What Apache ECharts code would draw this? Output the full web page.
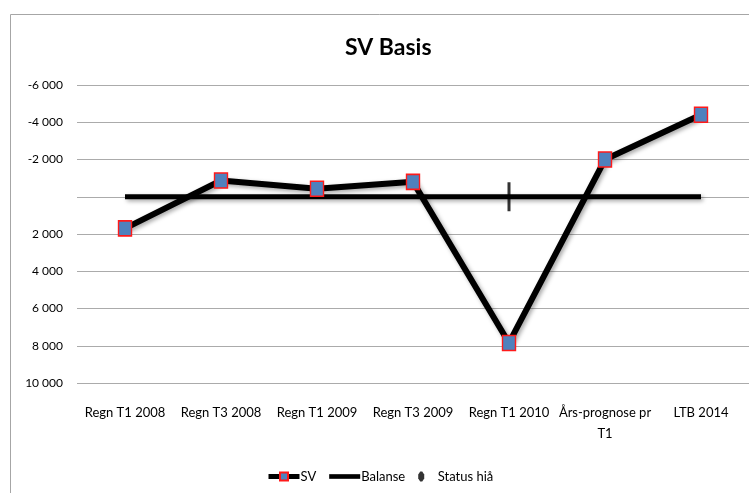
<!DOCTYPE html>
<html>
<head>
<meta charset="utf-8">
<script src="https://cdn.jsdelivr.net/npm/echarts@6/dist/echarts.min.js"></script>
<style>
  html, body { margin: 0; padding: 0; background: #fff; }
  #chart { width: 749px; height: 493px; }
</style>
</head>
<body>
<div id="chart"></div>
<script>
// data
const categories = ['Regn T1 2008', 'Regn T3 2008', 'Regn T1 2009', 'Regn T3 2009', 'Regn T1 2010', 'Års-prognose pr\nT1', 'LTB 2014'];
const svValues = [1700, -870, -430, -800, 7850, -2000, -4400];
const balanseValues = [0, 0, 0, 0, 0, 0, 0];
const statusValues = [null, null, null, null, 0, null, null];
const yTicks = [-6000, -4000, -2000, 0, 2000, 4000, 6000, 8000, 10000];

const font = 'Lato, sans-serif';

// "# ##0" style, blank for zero like the original
const fmt = v => {
  if (v === 0) return '';
  const s = String(Math.abs(v)).replace(/\B(?=(\d{3})+(?!\d))/g, ' ');
  return (v < 0 ? '-' : '') + s;
};

const chart = echarts.init(document.getElementById('chart'));

const lineShadow = {
  shadowColor: 'rgba(0,0,0,0.35)',
  shadowBlur: 4,
  shadowOffsetX: 2,
  shadowOffsetY: 2,
};

// chart frame, only top and left edges are inside the picture
const frame = { stroke: '#a6a6a6', lineWidth: 1 };

chart.setOption({
  animation: false,
  backgroundColor: '#fff',
  graphic: [
    { type: 'line', silent: true, shape: { x1: 10.5, y1: 14.5, x2: 749, y2: 14.5 }, style: frame },
    { type: 'line', silent: true, shape: { x1: 10.5, y1: 14.5, x2: 10.5, y2: 493 }, style: frame },
  ],
  title: {
    text: 'SV Basis',
    left: 340,
    top: 31,
    textStyle: { fontFamily: font, fontSize: 23, fontWeight: 'bold', color: '#000' },
  },
  legend: {
    bottom: 5,
    left: 261,
    itemGap: 13,
    itemWidth: 31,
    itemHeight: 10,
    textStyle: { fontFamily: font, fontSize: 13, color: '#000', padding: [0, 0, 0, -4] },
    lineStyle: { width: 5 },
    data: [
      { name: 'SV' },
      { name: 'Balanse', icon: 'path://M0,0 L40,0 L40,6 L0,6 Z' },
      { name: 'Status hiå', icon: 'path://M2,0 L4,0 L6,3 L6,7 L4,10 L2,10 L0,7 L0,3 Z' },
    ],
  },
  grid: { top: 85, bottom: 110, left: 77, right: 0 },
  xAxis: {
    type: 'category',
    data: categories,
    boundaryGap: true,
    axisLine: { show: false },
    axisTick: { show: false },
    axisLabel: { fontFamily: font, fontSize: 13, color: '#000', margin: 19, interval: 0, lineHeight: 21 },
  },
  yAxis: {
    type: 'value',
    inverse: true,
    min: yTicks[0],
    max: yTicks[yTicks.length - 1],
    interval: 2000,
    axisLine: { show: false },
    axisTick: { show: false },
    axisLabel: { fontFamily: font, fontSize: 12, color: '#000', margin: 14, formatter: fmt },
    splitLine: { lineStyle: { color: '#ababab', width: 1 } },
  },
  series: [
    {
      name: 'Balanse',
      type: 'line',
      data: balanseValues,
      symbol: 'none',
      lineStyle: Object.assign({ color: '#000', width: 5 }, lineShadow),
      itemStyle: { color: '#000' },
      z: 2,
    },
    {
      name: 'SV',
      type: 'line',
      data: svValues,
      symbol: 'rect',
      symbolSize: [13, 15],
      lineStyle: Object.assign({ color: '#000', width: 6 }, lineShadow),
      itemStyle: { color: '#4f81bd', borderColor: '#ff1a1a', borderWidth: 1.5 },
      z: 3,
    },
    {
      name: 'Status hiå',
      type: 'scatter',
      data: statusValues,
      symbol: 'rect',
      symbolSize: [3, 29],
      itemStyle: { color: '#000' },
      z: 4,
    },
  ],
});
</script>
</body>
</html>
